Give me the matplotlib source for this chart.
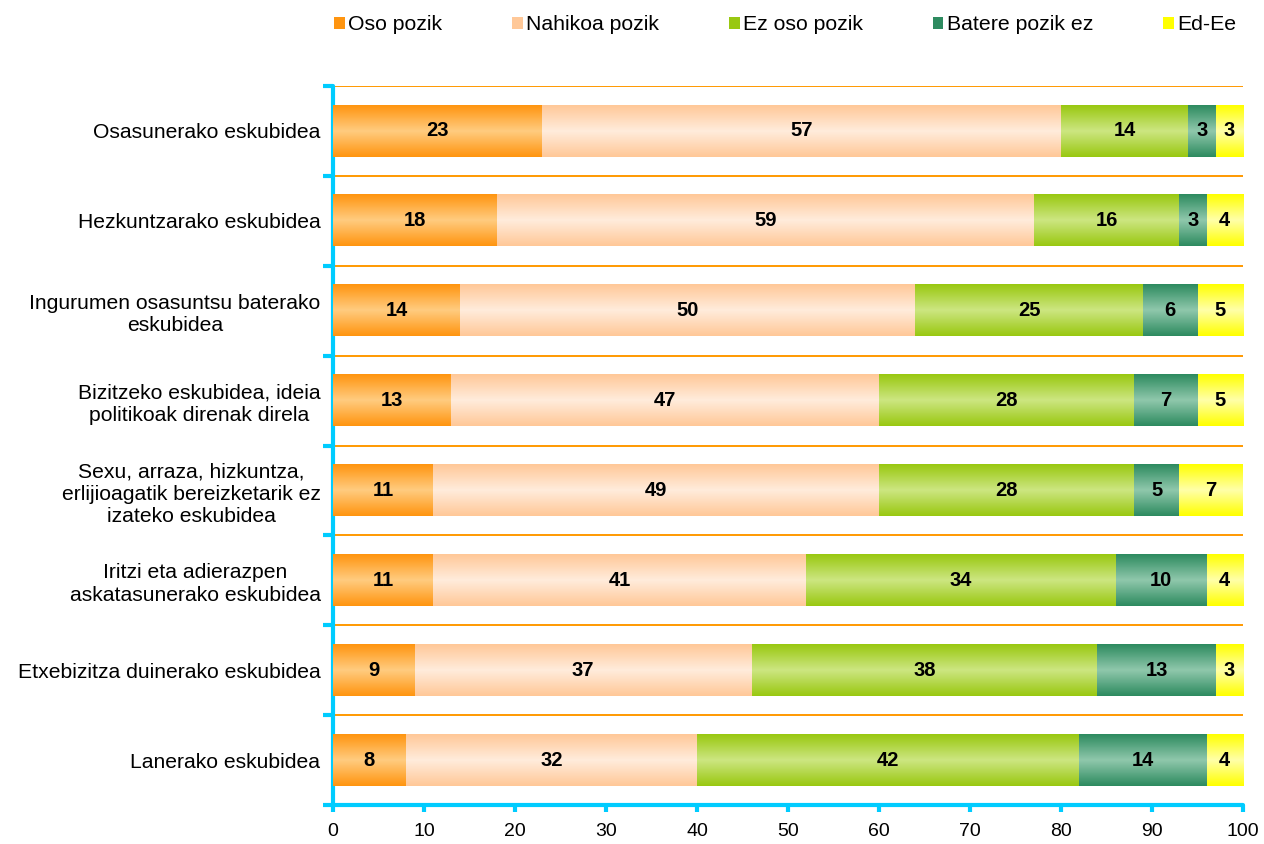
import matplotlib
matplotlib.use("Agg")
import matplotlib.pyplot as plt
import numpy as np
from matplotlib.colors import LinearSegmentedColormap
from matplotlib.patches import Patch

plt.rcParams['font.family'] = ['Liberation Sans', 'DejaVu Sans']

# Data
categories = [
    "Osasunerako eskubidea",
    "Hezkuntzarako eskubidea",
    "Ingurumen osasuntsu baterako\neskubidea",
    "Bizitzeko eskubidea, ideia\npolitikoak direnak direla",
    "Sexu, arraza, hizkuntza,\nerlijioagatik bereizketarik ez\nizateko eskubidea",
    "Iritzi eta adierazpen\naskatasunerako eskubidea",
    "Etxebizitza duinerako eskubidea",
    "Lanerako eskubidea",
]
series = ["Oso pozik", "Nahikoa pozik", "Ez oso pozik", "Batere pozik ez", "Ed-Ee"]
oso_pozik = [23, 18, 14, 13, 11, 11, 9, 8]
nahikoa_pozik = [57, 59, 50, 47, 49, 41, 37, 32]
ez_oso_pozik = [14, 16, 25, 28, 28, 34, 38, 42]
batere_pozik_ez = [3, 3, 6, 7, 5, 10, 13, 14]
ed_ee = [3, 4, 5, 5, 7, 4, 3, 4]
values = [oso_pozik, nahikoa_pozik, ez_oso_pozik, batere_pozik_ez, ed_ee]

# (edge colour, middle colour) for the vertical gradient of each series
colors = [
    ("#FF9510", "#FFCC80"),
    ("#FFC898", "#FFECDC"),
    ("#99C811", "#CDE682"),
    ("#2E8B60", "#90C8AC"),
    ("#FFFF00", "#FFFFAA"),
]

fig = plt.figure(figsize=(12.64, 8.44), dpi=100)
ax = fig.add_axes([333 / 1264, 1 - 805 / 844, 910 / 1264, 719 / 844])

y = np.arange(len(categories))
left = np.zeros(len(categories))
grad = np.linspace(0, 1, 64).reshape(-1, 1)
for vals, name, (edge, mid) in zip(values, series, colors):
    vals = np.array(vals)
    bars = ax.barh(y, vals, left=left, height=0.57, color=edge, label=name, zorder=2)
    cmap = LinearSegmentedColormap.from_list(name, [edge, mid, edge])
    for rect, v in zip(bars, vals):
        x0, y0 = rect.get_x(), rect.get_y()
        w, h = rect.get_width(), rect.get_height()
        ax.imshow(grad, cmap=cmap, aspect='auto', extent=[x0, x0 + w, y0 + h, y0],
                  interpolation='bilinear', zorder=3)
        ax.text(x0 + w / 2, y0 + h / 2, str(v), ha='center', va='center',
                fontsize=14.5, fontweight='bold', zorder=4)
    left += vals

# orange separators between categories
ax.hlines(np.arange(len(categories)) - 0.5, 0, 100, color="#FF9900", lw=1.4, zorder=1)

ax.set_xlim(0, 100)
ax.set_ylim(len(categories) - 0.5, -0.5)

cyan = "#00CCFF"
for s in ["top", "right"]:
    ax.spines[s].set_visible(False)
for s in ["left", "bottom"]:
    ax.spines[s].set_color(cyan)
    ax.spines[s].set_linewidth(3)
    ax.spines[s].set_capstyle('round')

ax.set_xticks(np.arange(0, 101, 10))
ax.tick_params(axis='x', colors=cyan, length=5, width=3, labelsize=14, pad=8,
               labelcolor='black')
ax.set_yticks(y)
ax.set_yticklabels(categories)
ax.set_yticks(np.arange(len(categories) + 1) - 0.5, minor=True)
ax.tick_params(axis='y', which='major', length=0, pad=9, labelsize=15.2)
ax.tick_params(axis='y', which='minor', colors=cyan, length=7.5, width=3)
for lbl in ax.get_yticklabels():
    lbl.set_multialignment('center')
    lbl.set_linespacing(1.22)
for t in ax.xaxis.get_ticklines() + ax.yaxis.get_ticklines(minor=True):
    t.set_solid_capstyle('round')

handles = [Patch(facecolor=edge, edgecolor='none') for edge, mid in colors]
fig.legend(handles, series, loc='center', bbox_to_anchor=(785 / 1264, 1 - 25 / 844),
           ncol=5, frameon=False, fontsize=15.3, handlelength=0.5, handleheight=0.5,
           handletextpad=0.15, columnspacing=3.3)

fig.savefig("out.png", dpi=100)
